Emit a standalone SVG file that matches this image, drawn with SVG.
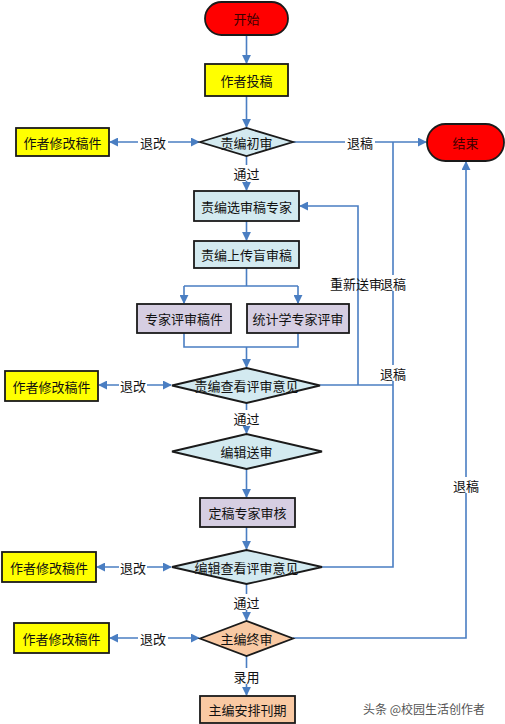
<svg xmlns="http://www.w3.org/2000/svg" width="505" height="724" viewBox="0 0 505 724">
<defs>
<marker id="ah" viewBox="0 0 10 10" refX="9" refY="5" markerWidth="9" markerHeight="9" markerUnits="userSpaceOnUse" orient="auto-start-reverse"><path d="M0,0 L10,5 L0,10 z" fill="#4A7EC2"/></marker>
<style>
text{font-family:"Noto Sans CJK SC","Liberation Sans",sans-serif;font-size:13px;fill:#111;text-anchor:middle;dominant-baseline:central}
.c{fill:none;stroke:#4A7EC2;stroke-width:1.6}
.a{marker-end:url(#ah)}
.b{marker-start:url(#ah);marker-end:url(#ah)}
.n{stroke:#1a1a1a;stroke-width:1.8}
.red{fill:#FF0000}.yel{fill:#FFFF00}.cy{fill:#D3EAF0}.pu{fill:#D6CEE2}.or{fill:#F9C9A3}
.lbl{fill:#fff}
.wm{fill:#555;font-size:12px;text-anchor:start}
</style>
</defs>
<g id="connectors">
<path class="c a" d="M246.5 35 V63"/>
<path class="c a" d="M246.5 96 V127"/>
<path class="c b" d="M110 142 H199"/>
<path class="c a" d="M293 142 H426"/>
<path class="c a" d="M246.5 156 V190"/>
<path class="c a" d="M246.5 221 V240"/>
<path class="c" d="M246.5 268 V286 M184 286 H298"/>
<path class="c a" d="M184 286 V303"/>
<path class="c a" d="M298 286 V303"/>
<path class="c" d="M184 333 V347 H298 V333"/>
<path class="c a" d="M246.5 347 V367"/>
<path class="c b" d="M99 385 H171"/>
<path class="c" d="M320 385 H393"/>
<path class="c a" d="M358 385 V206 H300"/>
<path class="c a" d="M246.5 403 V433"/>
<path class="c a" d="M246.5 469 V497"/>
<path class="c a" d="M246.5 527 V549"/>
<path class="c b" d="M97 567 H171"/>
<path class="c" d="M322 567 H393 V142"/>
<path class="c a" d="M246.5 584 V620"/>
<path class="c b" d="M110 638 H199"/>
<path class="c a" d="M293 638 H466 V162"/>
<path class="c a" d="M246.5 656 V695"/>
<rect class="lbl" x="138" y="134" width="30" height="16"/><text x="153" y="142">退改</text>
<rect class="lbl" x="345" y="134" width="30" height="16"/><text x="360" y="142">退稿</text>
<rect class="lbl" x="232" y="165" width="30" height="16"/><text x="246.5" y="173">通过</text>
<text x="356" y="283">重新送审</text>
<rect class="lbl" x="381" y="275" width="25" height="16"/><text x="393" y="283">退稿</text>
<rect class="lbl" x="379" y="365" width="28" height="16"/><text x="393" y="373">退稿</text>
<rect class="lbl" x="119" y="377" width="28" height="16"/><text x="133" y="385">退改</text>
<rect class="lbl" x="232" y="410" width="30" height="16"/><text x="246.5" y="418">通过</text>
<rect class="lbl" x="119" y="559" width="28" height="16"/><text x="133" y="567">退改</text>
<rect class="lbl" x="232" y="594" width="30" height="16"/><text x="246.5" y="602">通过</text>
<rect class="lbl" x="138" y="630" width="30" height="16"/><text x="153" y="638">退改</text>
<rect class="lbl" x="452" y="477" width="28" height="16"/><text x="466" y="485">退稿</text>
<rect class="lbl" x="232" y="668" width="30" height="16"/><text x="246.5" y="676">录用</text>
</g>
<g id="start"><rect class="n red" x="205" y="2" width="83" height="33" rx="16.5"/><text x="246.5" y="18.5" style="fill:#3a0000">开始</text></g>
<g id="submit"><rect class="n yel" x="205" y="64" width="83" height="32"/><text x="246.5" y="80">作者投稿</text></g>
<g id="d1"><polygon class="n cy" points="200,142 246.5,128 293,142 246.5,156"/><text x="246.5" y="142">责编初审</text></g>
<g id="rev1"><rect class="n yel" x="16" y="128" width="93" height="28"/><text x="62.5" y="142">作者修改稿件</text></g>
<g id="end"><rect class="n red" x="427" y="124" width="77" height="37" rx="18.5"/><text x="465.5" y="142.5" style="fill:#3a0000">结束</text></g>
<g id="choose"><rect class="n cy" x="194" y="191" width="105" height="30"/><text x="246.5" y="206">责编选审稿专家</text></g>
<g id="upload"><rect class="n cy" x="194" y="241" width="105" height="27"/><text x="246.5" y="254.5">责编上传盲审稿</text></g>
<g id="expert"><rect class="n pu" x="137" y="304" width="94" height="29"/><text x="184" y="318.5">专家评审稿件</text></g>
<g id="stat"><rect class="n pu" x="247" y="304" width="102" height="29"/><text x="298" y="318.5">统计学专家评审</text></g>
<g id="d2"><polygon class="n cy" points="172,385.5 246.5,368 320,385.5 246.5,403"/><text x="246.5" y="385.5">责编查看评审意见</text></g>
<g id="rev2"><rect class="n yel" x="5" y="371" width="93" height="30"/><text x="51.5" y="386">作者修改稿件</text></g>
<g id="d3"><polygon class="n cy" points="172,451.5 246.5,434 322,451.5 246.5,469"/><text x="246.5" y="451.5">编辑送审</text></g>
<g id="final"><rect class="n pu" x="200" y="498" width="95" height="29"/><text x="247.5" y="512.5">定稿专家审核</text></g>
<g id="d4"><polygon class="n cy" points="172,567 246.5,550 322,567 246.5,584"/><text x="246.5" y="567">编辑查看评审意见</text></g>
<g id="rev3"><rect class="n yel" x="2" y="552" width="94" height="30"/><text x="49" y="567">作者修改稿件</text></g>
<g id="d5"><polygon class="n or" points="200,638.5 246.5,621 293,638.5 246.5,656"/><text x="246.5" y="638.5">主编终审</text></g>
<g id="rev4"><rect class="n yel" x="14" y="623" width="95" height="30"/><text x="61.5" y="638">作者修改稿件</text></g>
<g id="publish"><rect class="n or" x="200" y="696" width="95" height="27"/><text x="247.5" y="709.5">主编安排刊期</text></g>
<text class="wm" x="363" y="708">头条 @校园生活创作者</text>
</svg>
